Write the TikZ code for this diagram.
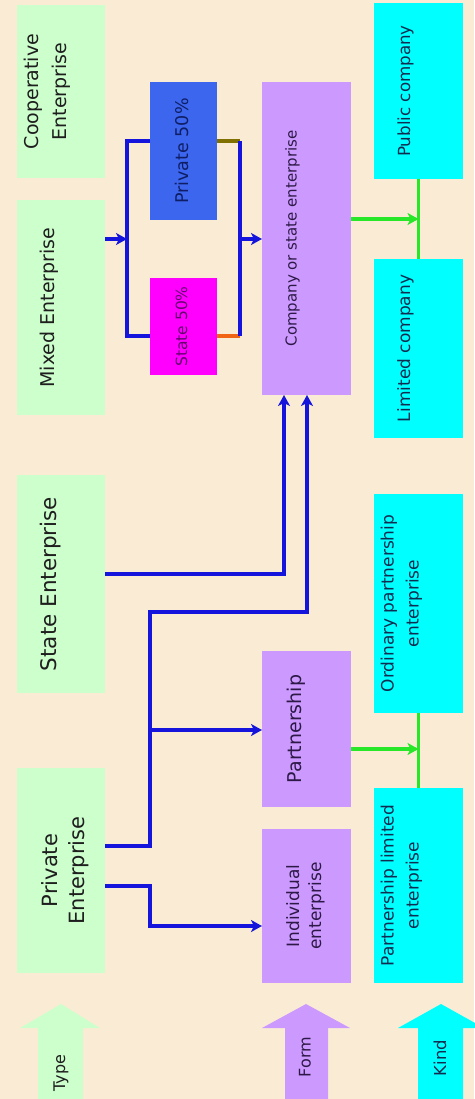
\documentclass[tikz,border=0pt]{standalone}
\usepackage{fontspec}
\setmainfont{DejaVu Sans}
\usetikzlibrary{arrows.meta}
\definecolor{bgc}{RGB}{250,236,212}
\definecolor{lgreen}{RGB}{204,255,204}
\definecolor{lpurple}{RGB}{204,153,255}
\definecolor{cyanbox}{RGB}{0,255,255}
\definecolor{bluebox}{RGB}{59,102,237}
\definecolor{magbox}{RGB}{255,0,255}
\definecolor{lineblue}{RGB}{20,20,220}
\definecolor{linegreen}{RGB}{40,230,40}
\definecolor{olivec}{RGB}{128,112,0}
\definecolor{orangec}{RGB}{240,100,20}
\definecolor{gtext}{RGB}{30,30,30}
\definecolor{ptext}{RGB}{45,25,70}
\definecolor{ctext}{RGB}{15,45,80}
\definecolor{navytext}{RGB}{15,30,100}
\definecolor{mtext}{RGB}{100,0,110}
\newcommand\setfs[2]{\fontsize{#1}{#2}\selectfont}
\begin{document}
\begin{tikzpicture}[x=1pt,y=-1pt,
  cell/.style={inner sep=0pt, outer sep=0pt},
  txt/.style={rotate=90, align=center, inner sep=0pt},
  typebox/.style={cell, fill=lgreen, minimum width=88pt},
  formbox/.style={cell, fill=lpurple, minimum width=89pt},
  kindbox/.style={cell, fill=cyanbox, minimum width=89pt},
  bl/.style={draw=lineblue, line width=3.5pt},
  gl/.style={draw=linegreen, line width=3.5pt},
  tipa/.style={-{Stealth[length=11pt,width=12pt,inset=3pt]}}
]
\fill[bgc] (0,0) rectangle (474,1099);
\useasboundingbox (0,0) rectangle (474,1099);

% Type column
\node[typebox, minimum height=173pt, label={[xshift=-13.5pt, txt, text=gtext, font=\setfs{19}{28}]center:Cooperative\\Enterprise}] (coop) at (61,91.5) {};
\node[typebox, minimum height=215pt, label={[xshift=-12pt, txt, text=gtext, font=\setfs{19}{24}]center:Mixed Enterprise}] (mixed) at (61,307.5) {};
\node[typebox, minimum height=218pt, label={[xshift=-10pt, txt, text=gtext, font=\setfs{21.5}{26}]center:State Enterprise}] (state) at (61,584) {};
\node[typebox, minimum height=205pt, label={[xshift=4pt, txt, text=gtext, font=\setfs{21}{27}]center:Private\\Enterprise}] (private) at (61,870.5) {};

% shares
\node[cell, fill=bluebox, minimum width=67pt, minimum height=138pt, label={[xshift=-2pt, txt, text=navytext, font=\setfs{17.5}{21}]center:Private 50\%}] (priv50) at (183.5,151) {};
\node[cell, fill=magbox, minimum width=67pt, minimum height=97pt, label={[xshift=-2pt, txt, text=mtext, font=\setfs{15.5}{19}]center:State 50\%}] (state50) at (183.5,326.5) {};

% Form column
\node[formbox, minimum height=313pt, label={[xshift=-14pt, txt, text=ptext, font=\setfs{15}{19}]center:Company or state enterprise}] (company) at (306.5,238.5) {};
\node[formbox, minimum height=156pt, label={[xshift=-10pt, txt, text=ptext, font=\setfs{19}{23}]center:Partnership}] (partnership) at (306.5,729) {};
\node[formbox, minimum height=154pt, label={[xshift=-1pt, txt, text=ptext, font=\setfs{17}{22}]center:Individual\\enterprise}] (individual) at (306.5,906) {};

% Kind column
\node[kindbox, minimum height=176pt, label={[xshift=-13pt, txt, text=ctext, font=\setfs{16.7}{20}]center:Public company}] (public) at (418.5,91) {};
\node[kindbox, minimum height=179pt, label={[xshift=-13pt, txt, text=ctext, font=\setfs{17}{20}]center:Limited company}] (limited) at (418.5,348.5) {};
\node[kindbox, minimum height=219pt, label={[xshift=-17pt, txt, text=ctext, font=\setfs{17}{25}]center:Ordinary partnership\\enterprise}] (ordinary) at (418.5,603.5) {};
\node[kindbox, minimum height=195pt, label={[xshift=-17pt, txt, text=ctext, font=\setfs{17}{25}]center:Partnership limited\\enterprise}] (plimited) at (418.5,885.5) {};

% junction coordinates
\coordinate (lt) at (127,141);
\coordinate (lb) at (127,336);
\coordinate (lj) at (127,239);
\coordinate (rt) at (240,141);
\coordinate (rb) at (240,336);
\coordinate (rj) at (240,239);
\coordinate (sa) at (284,574);
\coordinate (p1) at (150,846);
\coordinate (p2) at (150,612);
\coordinate (p3) at (307,612);
\coordinate (pj) at (150,730);
\coordinate (q1) at (150,886);
\coordinate (q2) at (150,926);
\coordinate (g1) at (418.5,219);
\coordinate (g2) at (418.5,749);

% blue connectors
\draw[bl, tipa] (mixed.east |- lj) -- (lj);
\draw[bl] (priv50.west |- lt) -- (lt) -- (lb) -- (state50.west |- lb);
\draw[olivec, line width=3.5pt] (priv50.east |- rt) -- (rt);
\draw[orangec, line width=3.5pt] (state50.east |- rb) -- (rb);
\draw[bl] (rt) -- (rb);
\draw[bl, tipa] (rj) -- (company.west |- rj);
\draw[bl, tipa] (state.east |- sa) -- (sa) -- (sa |- company.south);
\draw[bl, tipa] (private.east |- p1) -- (p1) -- (p2) -- (p3) -- (p3 |- company.south);
\draw[bl, tipa] (pj) -- (partnership.west |- pj);
\draw[bl, tipa] (private.east |- q1) -- (q1) -- (q2) -- (individual.west |- q2);

% green connectors
\draw[gl] (public.south) -- (limited.north);
\draw[gl, tipa] (company.east |- g1) -- (g1);
\draw[gl] (ordinary.south) -- (plimited.north);
\draw[gl, tipa] (partnership.east |- g2) -- (g2);

% legend block arrows
\fill[lgreen] (61,1004) -- (100,1028) -- (83,1028) -- (83,1099) -- (38,1099) -- (38,1028) -- (20,1028) -- cycle;
\fill[lpurple] (306,1004) -- (350,1028) -- (328,1028) -- (328,1099) -- (285,1099) -- (285,1028) -- (262,1028) -- cycle;
\fill[cyanbox] (441,1004) -- (484,1028) -- (463,1028) -- (463,1099) -- (418,1099) -- (418,1028) -- (398,1028) -- cycle;
\node[txt, text=gtext, font=\setfs{16}{19}] (typel) at (61,1073) {Type};
\node[txt, text=ptext, font=\setfs{16}{19}] (forml) at (305,1057) {Form};
\node[txt, text=ctext, font=\setfs{16.5}{19}] (kindl) at (440,1058) {Kind};
\end{tikzpicture}
\end{document}
